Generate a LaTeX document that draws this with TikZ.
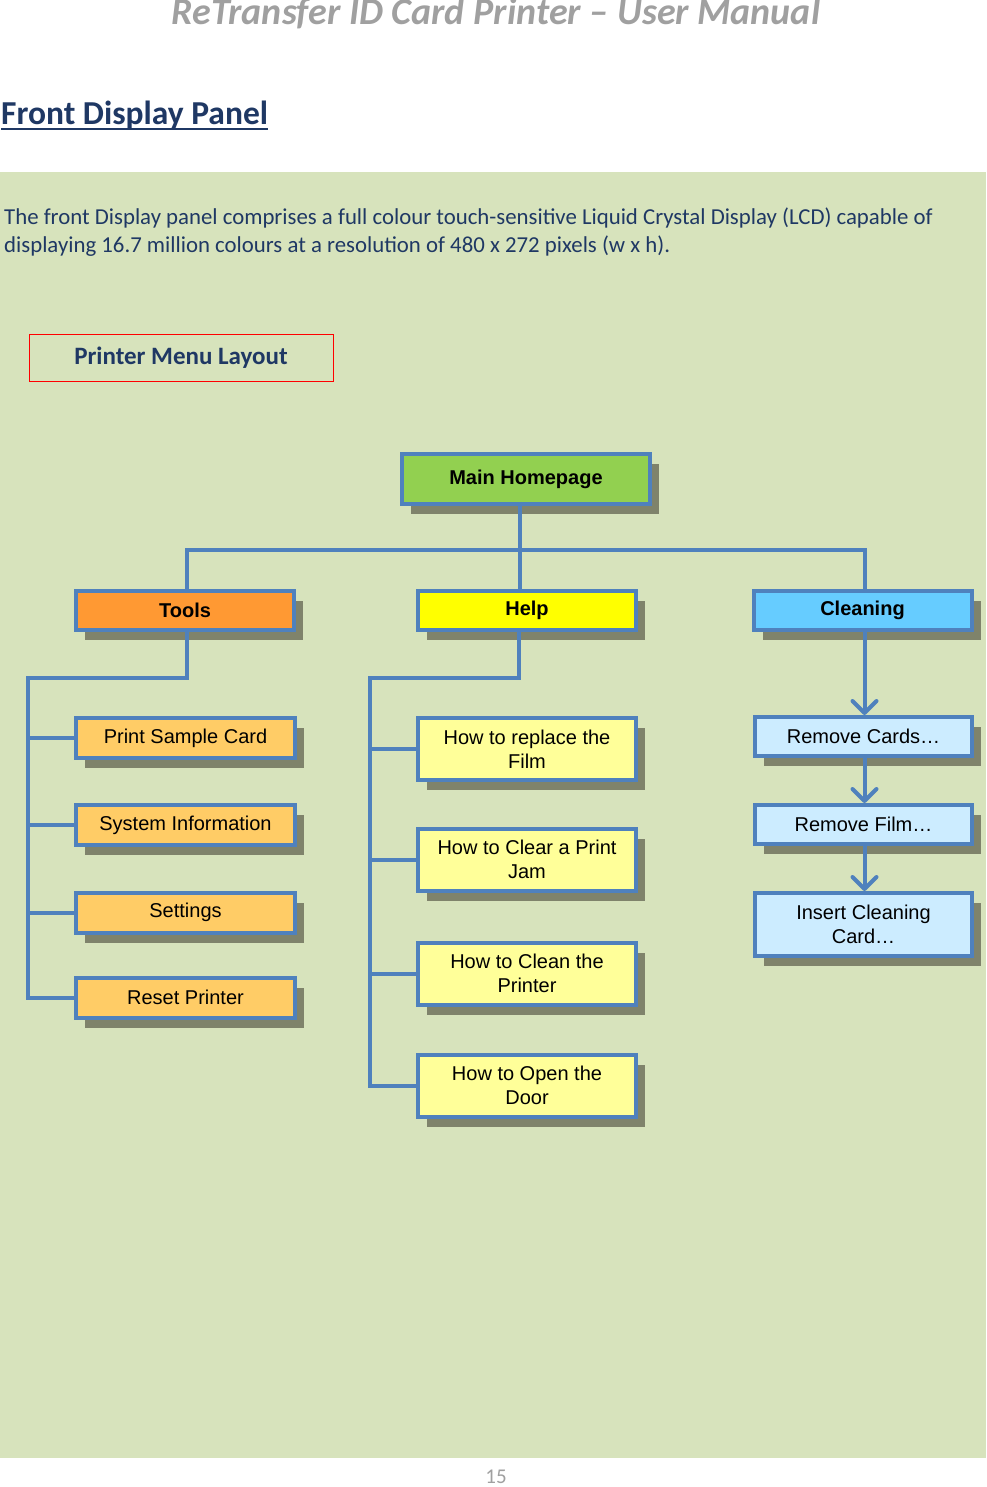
\documentclass[tikz,border=0pt]{standalone}
\usepackage{fontspec}
\setmainfont{Liberation Sans}
\newfontfamily\calibri{Carlito}
\usetikzlibrary{arrows.meta,shadows}

\definecolor{pagegreen}{RGB}{215,227,188}
\definecolor{boxblue}{RGB}{79,129,189}
\definecolor{shadowgray}{RGB}{127,131,107}
\definecolor{navy}{RGB}{31,56,100}
\definecolor{headgray}{RGB}{160,160,160}
\definecolor{mainfill}{RGB}{146,208,80}
\definecolor{toolsfill}{RGB}{255,153,51}
\definecolor{helpfill}{RGB}{255,255,0}
\definecolor{cleanfill}{RGB}{102,204,255}
\definecolor{toolitem}{RGB}{255,204,102}
\definecolor{helpitem}{RGB}{255,255,153}
\definecolor{cleanitem}{RGB}{204,236,255}

\begin{document}
\begin{tikzpicture}[x=1pt,y=-1pt,
    menubox/.style={draw=boxblue,line width=4pt,inner sep=0pt,align=center,
      font=\fontsize{20}{24}\selectfont,
      drop shadow={shadow xshift=9pt,shadow yshift=-10pt,fill=shadowgray,opacity=1}},
    headbox/.style={menubox,minimum width=218pt,minimum height=39pt,
      font=\fontsize{20}{24}\selectfont\bfseries},
    toolbox/.style={menubox,fill=toolitem,minimum width=219pt,minimum height=40pt},
    helpbox/.style={menubox,fill=helpitem,minimum width=218pt,minimum height=62pt},
    cleanbox/.style={menubox,fill=cleanitem,minimum width=217pt,minimum height=39pt}]
        \tikzset{tree/.style = {draw=boxblue,line width=4pt},
                 flow/.style = {tree,-{Straight Barb[length=12pt,width=24pt,round]}}}
        \useasboundingbox (0,0) rectangle (986,1487);

        % page
        \fill[pagegreen] (0,172) rectangle (986,1458);
        \node[anchor=base,text=headgray,font=\calibri\fontsize{38}{44}\selectfont\bfseries\itshape]
            (header) at (496,25) {ReTransfer ID Card Printer – User Manual};
        \node[anchor=base west,inner sep=0pt,text=navy,font=\calibri\fontsize{33.5}{38}\selectfont\bfseries]
            (panel) at (1,125) {Front Display Panel};
        \draw[navy,line width=2pt] ([yshift=-4pt]panel.base west) -- ([yshift=-4pt]panel.base east);
        \node[anchor=base west,inner sep=0pt,text=navy,font=\calibri\fontsize{22.8}{28}\selectfont]
            (para1) at (4,225) {The front Display panel comprises a full colour touch-sensitive Liquid Crystal Display (LCD) capable of};
        \node[anchor=base west,inner sep=0pt,text=navy,font=\calibri\fontsize{22.8}{28}\selectfont]
            (para2) at (4,253) {displaying 16.7 million colours at a resolution of 480 x 272 pixels (w x h).};
        \node[draw=red,line width=1pt,minimum width=304pt,minimum height=47pt,text=navy,
            font=\calibri\fontsize{25}{30}\selectfont\bfseries] (layout) at (181,358) {Printer Menu Layout};
        \node[anchor=base,inner sep=0pt,text=headgray,font=\calibri\fontsize{21}{24}\selectfont]
            (pagenum) at (496,1483) {15};

        % menu boxes
        \node[menubox,fill=mainfill,minimum width=248pt,minimum height=50pt,
            font=\fontsize{20}{24}\selectfont\bfseries] (Main) at (526,479) {Main Homepage};
        \node[headbox,fill=toolsfill] (Tools) at (185,610.5) {Tools};
        \node[headbox,fill=helpfill] (Help) at (527,610.5) {Help};
        \node[headbox,fill=cleanfill] (Cleaning) at (862.5,610.5) {Cleaning};

        \node[toolbox] (Sample) at (185.5,738) {Print Sample Card};
        \node[toolbox] (Info) at (185.5,825) {System Information};
        \node[toolbox] (Settings) at (185.5,912.5) {Settings};
        \node[toolbox] (Reset) at (185.5,997.5) {Reset Printer};

        \node[helpbox] (Film) at (527,749) {How to replace the\\Film};
        \node[helpbox] (Jam) at (527,859.5) {How to Clear a Print\\Jam};
        \node[helpbox] (Clean) at (527,973.5) {How to Clean the\\Printer};
        \node[helpbox] (Door) at (527,1085.5) {How to Open the\\Door};

        \node[cleanbox] (Cards) at (863.5,736.5) {Remove Cards\dots};
        \node[cleanbox] (RemFilm) at (863.5,824.5) {Remove Film\dots};
        \node[cleanbox,minimum height=63pt] (Insert) at (863.5,924.5) {Insert Cleaning\\Card\dots};

        % connectors
        \coordinate (hub) at (520,550);
        \coordinate (toolbus) at (28,678);
        \coordinate (helpbus) at (370,678);
        \draw[tree] ([xshift=2pt]Tools.north) |- (hub) -| ([xshift=2pt]Cleaning.north);
        \draw[tree] (Main.south -| hub) -- (Help.north -| hub);

        \draw[tree] ([xshift=2pt]Tools.south) |- (toolbus) |- (Reset.west);
        \foreach \n in {Sample,Info,Settings}
            \draw[tree] (toolbus |- \n.west) -- (\n.west);

        \draw[tree] ([xshift=-8pt]Help.south) |- (helpbus) |- (Door.west);
        \foreach \n in {Film,Jam,Clean}
            \draw[tree] (helpbus |- \n.west) -- (\n.west);

        \draw[flow] ([xshift=2pt]Cleaning.south) -- ([xshift=1pt]Cards.north);
        \draw[flow] ([xshift=1pt]Cards.south) -- ([xshift=1pt]RemFilm.north);
        \draw[flow] ([xshift=1pt]RemFilm.south) -- ([xshift=1pt]Insert.north);
\end{tikzpicture}
\end{document}
